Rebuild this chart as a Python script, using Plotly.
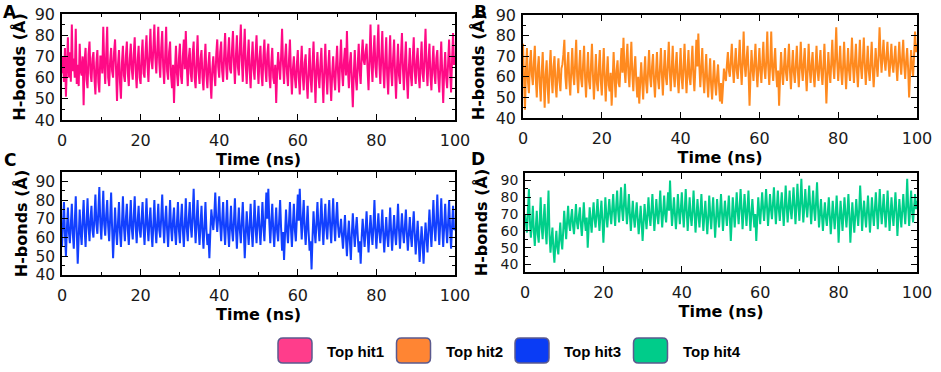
import plotly.graph_objects as go

# ---------------- data ----------------
series_names = ["Top hit1", "Top hit2", "Top hit3", "Top hit4"]
panel_letters = ["A", "B", "C", "D"]
x_title = "Time (ns)"
y_title = "H-bonds (Å)"
time_step_ns = 0.25

hbonds_hit1 = [
    62, 70, 58, 74, 51, 66, 79, 60, 72, 58, 85, 63, 69, 60, 83, 57, 66, 56, 76, 63,
    61, 70, 47, 68, 74, 59, 55, 71, 77, 62, 58, 69, 72, 60, 52, 67, 73, 58, 53, 70,
    70, 62, 84, 66, 57, 71, 84, 60, 56, 68, 74, 63, 60, 72, 78, 64, 49, 66, 73, 58,
    50, 67, 75, 61, 58, 70, 77, 62, 56, 69, 76, 64, 59, 71, 79, 63, 55, 68, 75, 60,
    57, 70, 78, 62, 60, 72, 80, 66, 58, 71, 83, 68, 64, 74, 85, 69, 62, 73, 84, 67,
    60, 74, 82, 65, 57, 70, 84, 63, 59, 72, 77, 61, 55, 66, 48, 64, 75, 62, 56, 69,
    76, 61, 57, 70, 78, 64, 82, 66, 56, 69, 74, 62, 58, 71, 77, 60, 55, 68, 80, 63,
    57, 69, 73, 60, 54, 67, 76, 61, 55, 66, 72, 59, 50, 64, 70, 62, 56, 71, 78, 65,
    60, 72, 77, 63, 58, 70, 81, 66, 59, 71, 79, 64, 62, 73, 82, 67, 57, 70, 80, 65,
    61, 74, 85, 68, 58, 72, 83, 66, 57, 69, 78, 63, 55, 68, 77, 64, 59, 71, 80, 66,
    57, 69, 75, 62, 56, 70, 78, 64, 58, 71, 76, 61, 55, 67, 74, 60, 57, 66, 48, 63,
    72, 65, 59, 70, 83, 66, 57, 69, 76, 62, 56, 68, 78, 63, 52, 64, 70, 60, 55, 66,
    73, 60, 52, 65, 75, 61, 54, 67, 71, 58, 50, 63, 74, 60, 53, 66, 77, 62, 48, 64,
    72, 61, 55, 66, 74, 60, 48, 63, 76, 62, 52, 65, 73, 59, 49, 62, 70, 60, 54, 66,
    75, 62, 53, 67, 78, 63, 56, 68, 74, 61, 82, 64, 55, 67, 72, 58, 46, 62, 73, 60,
    54, 66, 76, 63, 57, 70, 78, 68, 66, 72, 76, 64, 54, 69, 85, 67, 58, 71, 80, 65,
    60, 73, 85, 66, 57, 70, 82, 64, 55, 68, 79, 61, 52, 67, 80, 63, 56, 69, 78, 62,
    50, 65, 76, 61, 57, 70, 81, 64, 54, 67, 77, 60, 50, 64, 74, 61, 56, 69, 79, 63,
    57, 68, 74, 61, 55, 67, 77, 62, 58, 70, 83, 65, 56, 68, 76, 61, 54, 66, 75, 62,
    57, 69, 73, 60, 53, 65, 77, 62, 48, 63, 72, 60, 55, 67, 78, 64, 53, 68, 81, 66,
    70,
]
hbonds_hit2 = [
    76, 60, 44, 63, 74, 58, 52, 66, 73, 61, 56, 67, 75, 59, 50, 64, 70, 57, 48, 62,
    72, 58, 45, 61, 68, 55, 47, 63, 73, 60, 52, 65, 70, 56, 50, 62, 69, 58, 53, 64,
    66, 71, 78, 60, 54, 66, 72, 58, 51, 63, 74, 61, 56, 67, 78, 60, 52, 64, 73, 59,
    55, 66, 75, 60, 50, 62, 72, 58, 54, 65, 76, 61, 49, 60, 71, 57, 53, 64, 73, 58,
    51, 63, 74, 59, 48, 61, 70, 56, 53, 62, 46, 58, 72, 60, 50, 63, 68, 57, 55, 65,
    74, 62, 79, 64, 57, 68, 76, 62, 55, 66, 77, 61, 53, 64, 70, 58, 50, 60, 47, 57,
    67, 58, 49, 61, 70, 57, 52, 63, 73, 60, 55, 65, 71, 58, 50, 62, 72, 59, 54, 64,
    74, 61, 51, 63, 73, 60, 56, 66, 77, 63, 53, 64, 75, 61, 55, 65, 72, 59, 52, 63,
    74, 60, 54, 65, 76, 62, 52, 63, 73, 60, 56, 66, 75, 61, 53, 64, 78, 65, 81, 66,
    55, 64, 74, 60, 52, 62, 71, 58, 50, 60, 69, 56, 49, 59, 68, 57, 51, 60, 66, 56,
    48, 57, 47, 55, 64, 60, 58, 66, 72, 63, 60, 68, 76, 64, 57, 66, 74, 63, 59, 67,
    78, 65, 56, 67, 82, 66, 60, 69, 75, 62, 46, 61, 73, 64, 58, 67, 76, 63, 55, 65,
    74, 63, 57, 67, 77, 64, 59, 68, 82, 65, 56, 66, 82, 64, 58, 67, 74, 62, 55, 63,
    46, 60, 72, 63, 56, 65, 74, 62, 58, 67, 76, 63, 54, 64, 73, 62, 57, 66, 75, 63,
    55, 65, 77, 64, 58, 67, 74, 62, 53, 63, 76, 64, 57, 66, 72, 61, 55, 65, 75, 63,
    58, 66, 73, 62, 56, 65, 76, 63, 47, 60, 72, 63, 57, 67, 78, 65, 59, 70, 84, 67,
    58, 66, 75, 63, 56, 65, 77, 64, 54, 64, 74, 63, 58, 68, 79, 65, 57, 67, 76, 63,
    55, 66, 78, 65, 59, 68, 79, 66, 56, 65, 75, 63, 58, 67, 77, 64, 55, 64, 74, 66,
    60, 70, 84, 71, 62, 70, 78, 68, 63, 70, 77, 67, 60, 68, 76, 66, 62, 69, 75, 65,
    58, 68, 77, 67, 61, 70, 78, 66, 59, 68, 74, 64, 50, 62, 73, 65, 60, 70, 82, 72,
    76,
]
hbonds_hit3 = [
    55, 68, 79, 62, 50, 65, 76, 63, 57, 67, 78, 62, 54, 68, 82, 64, 46, 60, 75, 63,
    56, 69, 80, 65, 55, 68, 81, 66, 58, 70, 77, 64, 60, 71, 83, 67, 62, 74, 87, 68,
    59, 71, 85, 67, 61, 72, 80, 66, 58, 70, 84, 65, 49, 62, 76, 64, 56, 68, 79, 63,
    55, 67, 82, 66, 58, 70, 78, 64, 56, 68, 80, 65, 59, 71, 82, 66, 57, 69, 77, 64,
    60, 70, 79, 65, 56, 68, 81, 66, 58, 69, 76, 63, 55, 67, 80, 65, 57, 68, 78, 64,
    60, 71, 83, 67, 57, 69, 77, 64, 55, 67, 80, 65, 58, 69, 76, 63, 56, 68, 79, 64,
    57, 69, 78, 64, 55, 67, 81, 65, 58, 70, 79, 66, 60, 72, 86, 68, 57, 69, 80, 65,
    56, 67, 77, 63, 54, 66, 79, 64, 56, 62, 49, 63, 75, 69, 64, 72, 84, 70, 63, 71,
    82, 67, 58, 69, 79, 65, 56, 68, 80, 64, 55, 66, 77, 64, 58, 69, 81, 65, 54, 66,
    76, 64, 57, 68, 79, 65, 49, 62, 74, 64, 56, 67, 78, 64, 55, 66, 80, 66, 57, 68,
    77, 65, 56, 67, 79, 66, 58, 71, 84, 70, 86, 68, 57, 68, 78, 64, 55, 66, 76, 63,
    58, 69, 80, 65, 53, 63, 48, 62, 75, 64, 57, 68, 79, 65, 55, 67, 78, 64, 58, 70,
    83, 69, 86, 70, 59, 70, 80, 65, 56, 66, 77, 63, 53, 58, 43, 60, 74, 64, 57, 68,
    79, 66, 58, 69, 81, 67, 56, 68, 78, 65, 59, 70, 80, 66, 57, 69, 81, 67, 58, 70,
    79, 66, 60, 64, 70, 61, 54, 63, 72, 60, 50, 61, 69, 58, 48, 62, 73, 63, 55, 64,
    71, 61, 52, 58, 46, 60, 70, 62, 55, 64, 74, 62, 52, 63, 72, 63, 56, 66, 80, 64,
    54, 64, 73, 63, 57, 65, 75, 62, 52, 62, 71, 61, 55, 65, 76, 63, 53, 63, 72, 62,
    56, 66, 78, 64, 54, 64, 73, 63, 57, 66, 75, 62, 53, 62, 71, 61, 55, 65, 74, 62,
    51, 60, 69, 58, 47, 57, 66, 57, 46, 58, 68, 60, 52, 64, 75, 64, 55, 67, 80, 66,
    58, 69, 83, 67, 56, 68, 81, 66, 55, 66, 78, 65, 57, 68, 80, 65, 54, 66, 77, 64,
    65,
]
hbonds_hit4 = [
    70, 64, 59, 72, 85, 66, 56, 64, 75, 60, 51, 62, 72, 58, 53, 66, 80, 62, 55, 67,
    76, 60, 52, 68, 84, 58, 47, 55, 62, 49, 41, 52, 60, 50, 46, 56, 65, 54, 49, 60,
    72, 63, 55, 66, 75, 64, 60, 68, 73, 63, 58, 67, 76, 65, 61, 69, 74, 64, 57, 66,
    77, 66, 60, 68, 50, 62, 74, 66, 59, 69, 77, 67, 62, 70, 79, 68, 60, 70, 78, 66,
    53, 66, 80, 69, 62, 71, 79, 70, 64, 73, 82, 71, 63, 74, 84, 72, 65, 75, 86, 73,
    66, 76, 88, 74, 64, 72, 82, 70, 60, 69, 78, 68, 62, 70, 77, 67, 58, 66, 75, 65,
    54, 65, 76, 68, 61, 70, 80, 69, 63, 72, 82, 70, 60, 69, 79, 70, 64, 73, 84, 71,
    62, 71, 81, 70, 65, 74, 83, 72, 90, 74, 63, 71, 80, 70, 61, 70, 82, 72, 64, 73,
    83, 71, 62, 73, 85, 72, 60, 70, 80, 69, 63, 72, 84, 71, 59, 69, 79, 70, 62, 71,
    82, 70, 60, 69, 78, 68, 58, 68, 81, 70, 61, 71, 80, 68, 56, 67, 79, 70, 62, 71,
    82, 71, 60, 69, 78, 70, 63, 72, 81, 68, 54, 66, 80, 71, 62, 72, 83, 72, 64, 74,
    85, 73, 61, 71, 82, 72, 63, 73, 84, 71, 60, 70, 79, 70, 62, 70, 54, 67, 80, 71,
    64, 74, 83, 73, 66, 75, 85, 74, 63, 72, 82, 73, 67, 76, 86, 74, 64, 74, 84, 73,
    66, 75, 83, 73, 63, 74, 87, 75, 65, 74, 84, 73, 67, 76, 86, 75, 64, 75, 88, 76,
    66, 77, 91, 76, 65, 74, 85, 75, 68, 77, 87, 75, 64, 74, 84, 73, 66, 77, 89, 74,
    62, 70, 79, 69, 60, 69, 77, 68, 63, 71, 80, 69, 58, 67, 78, 69, 61, 70, 81, 70,
    53, 66, 78, 69, 60, 70, 80, 70, 62, 71, 82, 70, 53, 65, 77, 68, 59, 69, 79, 70,
    63, 73, 87, 74, 60, 70, 78, 69, 62, 72, 81, 70, 59, 69, 80, 70, 63, 73, 83, 72,
    61, 72, 85, 73, 64, 73, 82, 71, 62, 72, 84, 72, 60, 70, 80, 70, 63, 73, 83, 72,
    57, 68, 79, 70, 62, 72, 82, 72, 64, 75, 91, 74, 63, 73, 84, 72, 65, 74, 82, 73,
    78,
]
all_series = [hbonds_hit1, hbonds_hit2, hbonds_hit3, hbonds_hit4]

# ---------------- style ----------------
W, H = 941, 372
line_colors = ["#ff0a86", "#ff8a1f", "#1240ff", "#00cf8a"]
swatch_colors = ["#ff3d8b", "#ff8533", "#0a3cf5", "#00cc8a"]
TICK_FONT = "DejaVu Sans, Verdana, sans-serif"
LEG_FONT = "Liberation Sans, Arial, sans-serif"


def fx(p):
    """page pixel x -> paper fraction"""
    return p / W


def fy(p):
    """page pixel y -> paper fraction"""
    return 1 - p / H


# plot-area boxes in pixels: left, right, top, bottom, y range,
# y-title standoff, y tick-label size
panels = [
    dict(l=62, r=455, t=14, b=120, yr=[40, 90], ys=5, yf=16),
    dict(l=523, r=917, t=15, b=118, yr=[40, 90], ys=7, yf=16),
    dict(l=62, r=455, t=172, b=275, yr=[40, 95], ys=4, yf=15.5),
    dict(l=525, r=917, t=173, b=272, yr=[35.5, 94.5], ys=9, yf=14),
]
letter_pos = [(10, 12), (480, 12), (10, 160), (478, 159)]

fig = go.Figure()
layout = dict(
    width=W, height=H,
    margin=dict(l=0, r=0, t=0, b=0),
    paper_bgcolor="white", plot_bgcolor="white",
    showlegend=False,
    font=dict(family=TICK_FONT, color="black"),
)

for k, (vals, p) in enumerate(zip(all_series, panels)):
    times = [i * time_step_ns for i in range(len(vals))]
    sfx = "" if k == 0 else str(k + 1)
    fig.add_trace(go.Scatter(
        x=times, y=vals, mode="lines", name=series_names[k],
        line=dict(color=line_colors[k], width=2.0),
        xaxis="x" + sfx, yaxis="y" + sfx, hoverinfo="x+y",
    ))
    common = dict(
        showline=True, linecolor="black", linewidth=1.5, mirror="ticks",
        ticks="inside", ticklen=6, tickwidth=1.3, tickcolor="black",
        showgrid=False, zeroline=False, automargin=False,
    )
    layout["xaxis" + sfx] = dict(
        common, domain=[fx(p["l"]), fx(p["r"])], range=[0, 100],
        anchor="y" + sfx, tick0=0, dtick=20, ticklabelstandoff=5,
        tickfont=dict(family=TICK_FONT, size=16, color="#1a1a1a"),
        minor=dict(ticks="inside", tick0=0, dtick=10, ticklen=3.5,
                   tickwidth=1.2, tickcolor="black", showgrid=False),
        title=dict(text=x_title, standoff=3,
                   font=dict(family=TICK_FONT, size=16, weight="bold", color="black")),
    )
    layout["yaxis" + sfx] = dict(
        common, domain=[fy(p["b"]), fy(p["t"])], range=p["yr"],
        anchor="x" + sfx, tick0=0, dtick=10, ticklabelstandoff=2,
        tickfont=dict(family=TICK_FONT, size=p["yf"], color="#1a1a1a"),
        minor=dict(ticks="inside", tick0=0, dtick=5, ticklen=3.5,
                   tickwidth=1.2, tickcolor="black", showgrid=False),
        title=dict(text=y_title, standoff=p["ys"],
                   font=dict(family=TICK_FONT, size=16, weight="bold", color="black")),
    )

annotations = []
for letter, (lx, ly) in zip(panel_letters, letter_pos):
    annotations.append(dict(
        text=letter, x=fx(lx), y=fy(ly), xref="paper", yref="paper",
        showarrow=False, xanchor="center", yanchor="middle",
        font=dict(family=TICK_FONT, size=17, weight="bold", color="black"),
    ))

# custom legend: rounded swatches + labels
shapes = []
sw_w, sw_h, rad = 34, 25, 5
sw_top = 338
for i, name in enumerate(series_names):
    left = 278 + 118.5 * i
    x0, x1 = left, left + sw_w
    y0, y1 = sw_top, sw_top + sw_h
    path = (
        f"M {fx(x0 + rad)},{fy(y0)} L {fx(x1 - rad)},{fy(y0)} "
        f"Q {fx(x1)},{fy(y0)} {fx(x1)},{fy(y0 + rad)} "
        f"L {fx(x1)},{fy(y1 - rad)} Q {fx(x1)},{fy(y1)} {fx(x1 - rad)},{fy(y1)} "
        f"L {fx(x0 + rad)},{fy(y1)} Q {fx(x0)},{fy(y1)} {fx(x0)},{fy(y1 - rad)} "
        f"L {fx(x0)},{fy(y0 + rad)} Q {fx(x0)},{fy(y0)} {fx(x0 + rad)},{fy(y0)} Z"
    )
    shapes.append(dict(type="path", path=path, xref="paper", yref="paper",
                       fillcolor=swatch_colors[i],
                       line=dict(color="#5b5a8e", width=1.5)))
    annotations.append(dict(
        text=name, x=fx(left + 47), y=fy(351), xref="paper", yref="paper",
        showarrow=False, xanchor="left", yanchor="middle",
        font=dict(family=LEG_FONT, size=15, weight="bold", color="black"),
    ))

layout["annotations"] = annotations
layout["shapes"] = shapes
fig.update_layout(**layout)
# drop the browser's default 8px page margin so the figure fills the window
fig.write_html("out.html",
               config={"displayModeBar": False},
               post_script="document.body.style.margin='0px';")
